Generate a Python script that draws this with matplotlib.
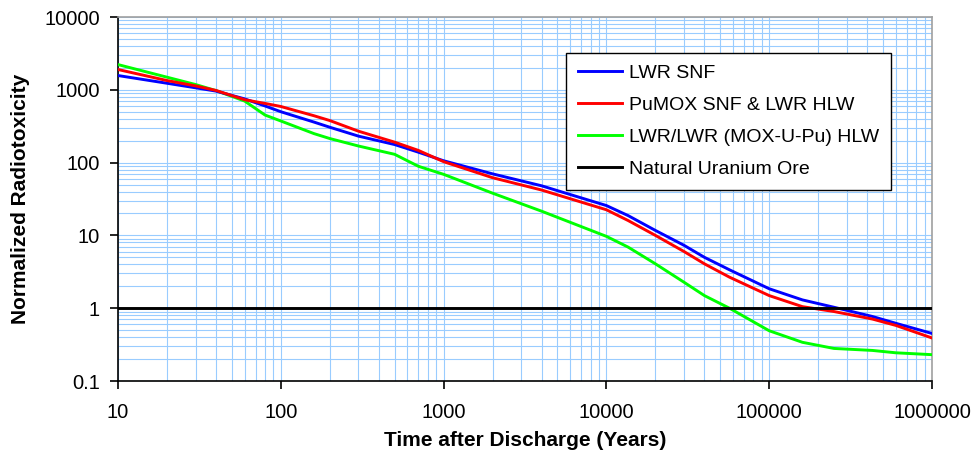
import matplotlib
matplotlib.use("Agg")
import matplotlib.pyplot as plt
from matplotlib.ticker import LogLocator, NullFormatter

plt.rcParams["font.family"] = ["Liberation Sans", "DejaVu Sans"]

# time after discharge (years)
years = [10, 20, 30, 40, 60, 80, 100, 160, 200, 300, 500, 700, 1000, 2000, 4000,
         10000, 13600, 20000, 30000, 40000, 57000, 100000, 160000, 250000,
         430000, 600000, 1000000]

lwr_snf = [1570, 1230, 1065, 960, 750, 600, 500, 360, 306, 231, 177, 139, 106, 70, 48,
           25.7, 18.7, 11.7, 7.3, 5.0, 3.37, 1.85, 1.30, 1.03,
           0.77, 0.62, 0.45]
pumox = [1900, 1340, 1130, 980, 730, 650, 590, 440, 378, 270, 191, 147, 103, 62, 42,
         22.5, 16.0, 10.0, 6.0, 4.07, 2.67, 1.49, 1.05, 0.90,
         0.71, 0.58, 0.39]
lwr_hlw = [2220, 1490, 1180, 975, 700, 450, 373, 250, 214, 169, 130, 89, 69, 38, 21.5,
           9.7, 6.9, 4.07, 2.27, 1.49, 1.0, 0.49, 0.34, 0.28,
           0.263, 0.244, 0.23]
ore_level = 1.0

series_labels = ["LWR SNF", "PuMOX SNF & LWR HLW", "LWR/LWR (MOX-U-Pu) HLW",
                 "Natural Uranium Ore"]
x_ticks = [10, 100, 1000, 10000, 100000, 1000000]
x_ticklabels = ["10", "100", "1000", "10000", "100000", "1000000"]
y_ticks = [0.1, 1, 10, 100, 1000, 10000]
y_ticklabels = ["0.1", "1", "10", "100", "1000", "10000"]

GRID = "#99ccff"

fig = plt.figure(figsize=(9.75, 4.59), dpi=100)
ax = fig.add_axes([118 / 975, 1 - 381 / 459, (932 - 118) / 975, (381 - 17) / 459])

ax.set_xscale("log")
ax.set_yscale("log")
ax.set_xlim(10, 1e6)
ax.set_ylim(0.1, 1e4)

ax.plot(years, lwr_snf, color="#0000ff", lw=2.1, label=series_labels[0], zorder=4)
ax.plot(years, pumox, color="#ff0000", lw=2.1, label=series_labels[1], zorder=4)
ax.plot(years, lwr_hlw, color="#00ff00", lw=2.1, label=series_labels[2], zorder=3)
ax.axhline(ore_level, color="black", lw=2.1, label=series_labels[3], zorder=5)

ax.set_xticks(x_ticks, x_ticklabels)
ax.set_yticks(y_ticks, y_ticklabels)
ax.xaxis.set_minor_locator(LogLocator(base=10, subs=range(2, 10), numticks=20))
ax.yaxis.set_minor_locator(LogLocator(base=10, subs=range(2, 10), numticks=20))
ax.xaxis.set_minor_formatter(NullFormatter())
ax.yaxis.set_minor_formatter(NullFormatter())
ax.grid(True, which="both", color=GRID, lw=0.8)
ax.set_axisbelow(True)

ax.tick_params(which="minor", length=0)
ax.tick_params(axis="x", which="major", length=6, width=1.2, pad=10, labelsize=14.5)
ax.tick_params(axis="y", which="major", length=6, width=1.2, pad=7, labelsize=14.5)

for side in ("left", "bottom"):
    ax.spines[side].set_color("black")
    ax.spines[side].set_linewidth(1.2)
for side in ("top", "right"):
    ax.spines[side].set_color("#a0a0a0")
    ax.spines[side].set_linewidth(1.2)

ax.set_xlabel("Time after Discharge (Years)", fontsize=15, fontweight="bold", labelpad=6)
ax.set_ylabel("Normalized Radiotoxicity", fontsize=15, fontweight="bold", labelpad=10)

leg = ax.legend(loc="upper left", bbox_to_anchor=(566 / 975, 1 - 53 / 459),
                bbox_transform=fig.transFigure, fontsize=14, frameon=True,
                fancybox=False, framealpha=1, edgecolor="black",
                handlelength=2.3, labelspacing=0.74, borderpad=0.6,
                handletextpad=0.35, borderaxespad=0)
leg.get_frame().set_linewidth(1.0)

fig.savefig("out.png", dpi=100)
